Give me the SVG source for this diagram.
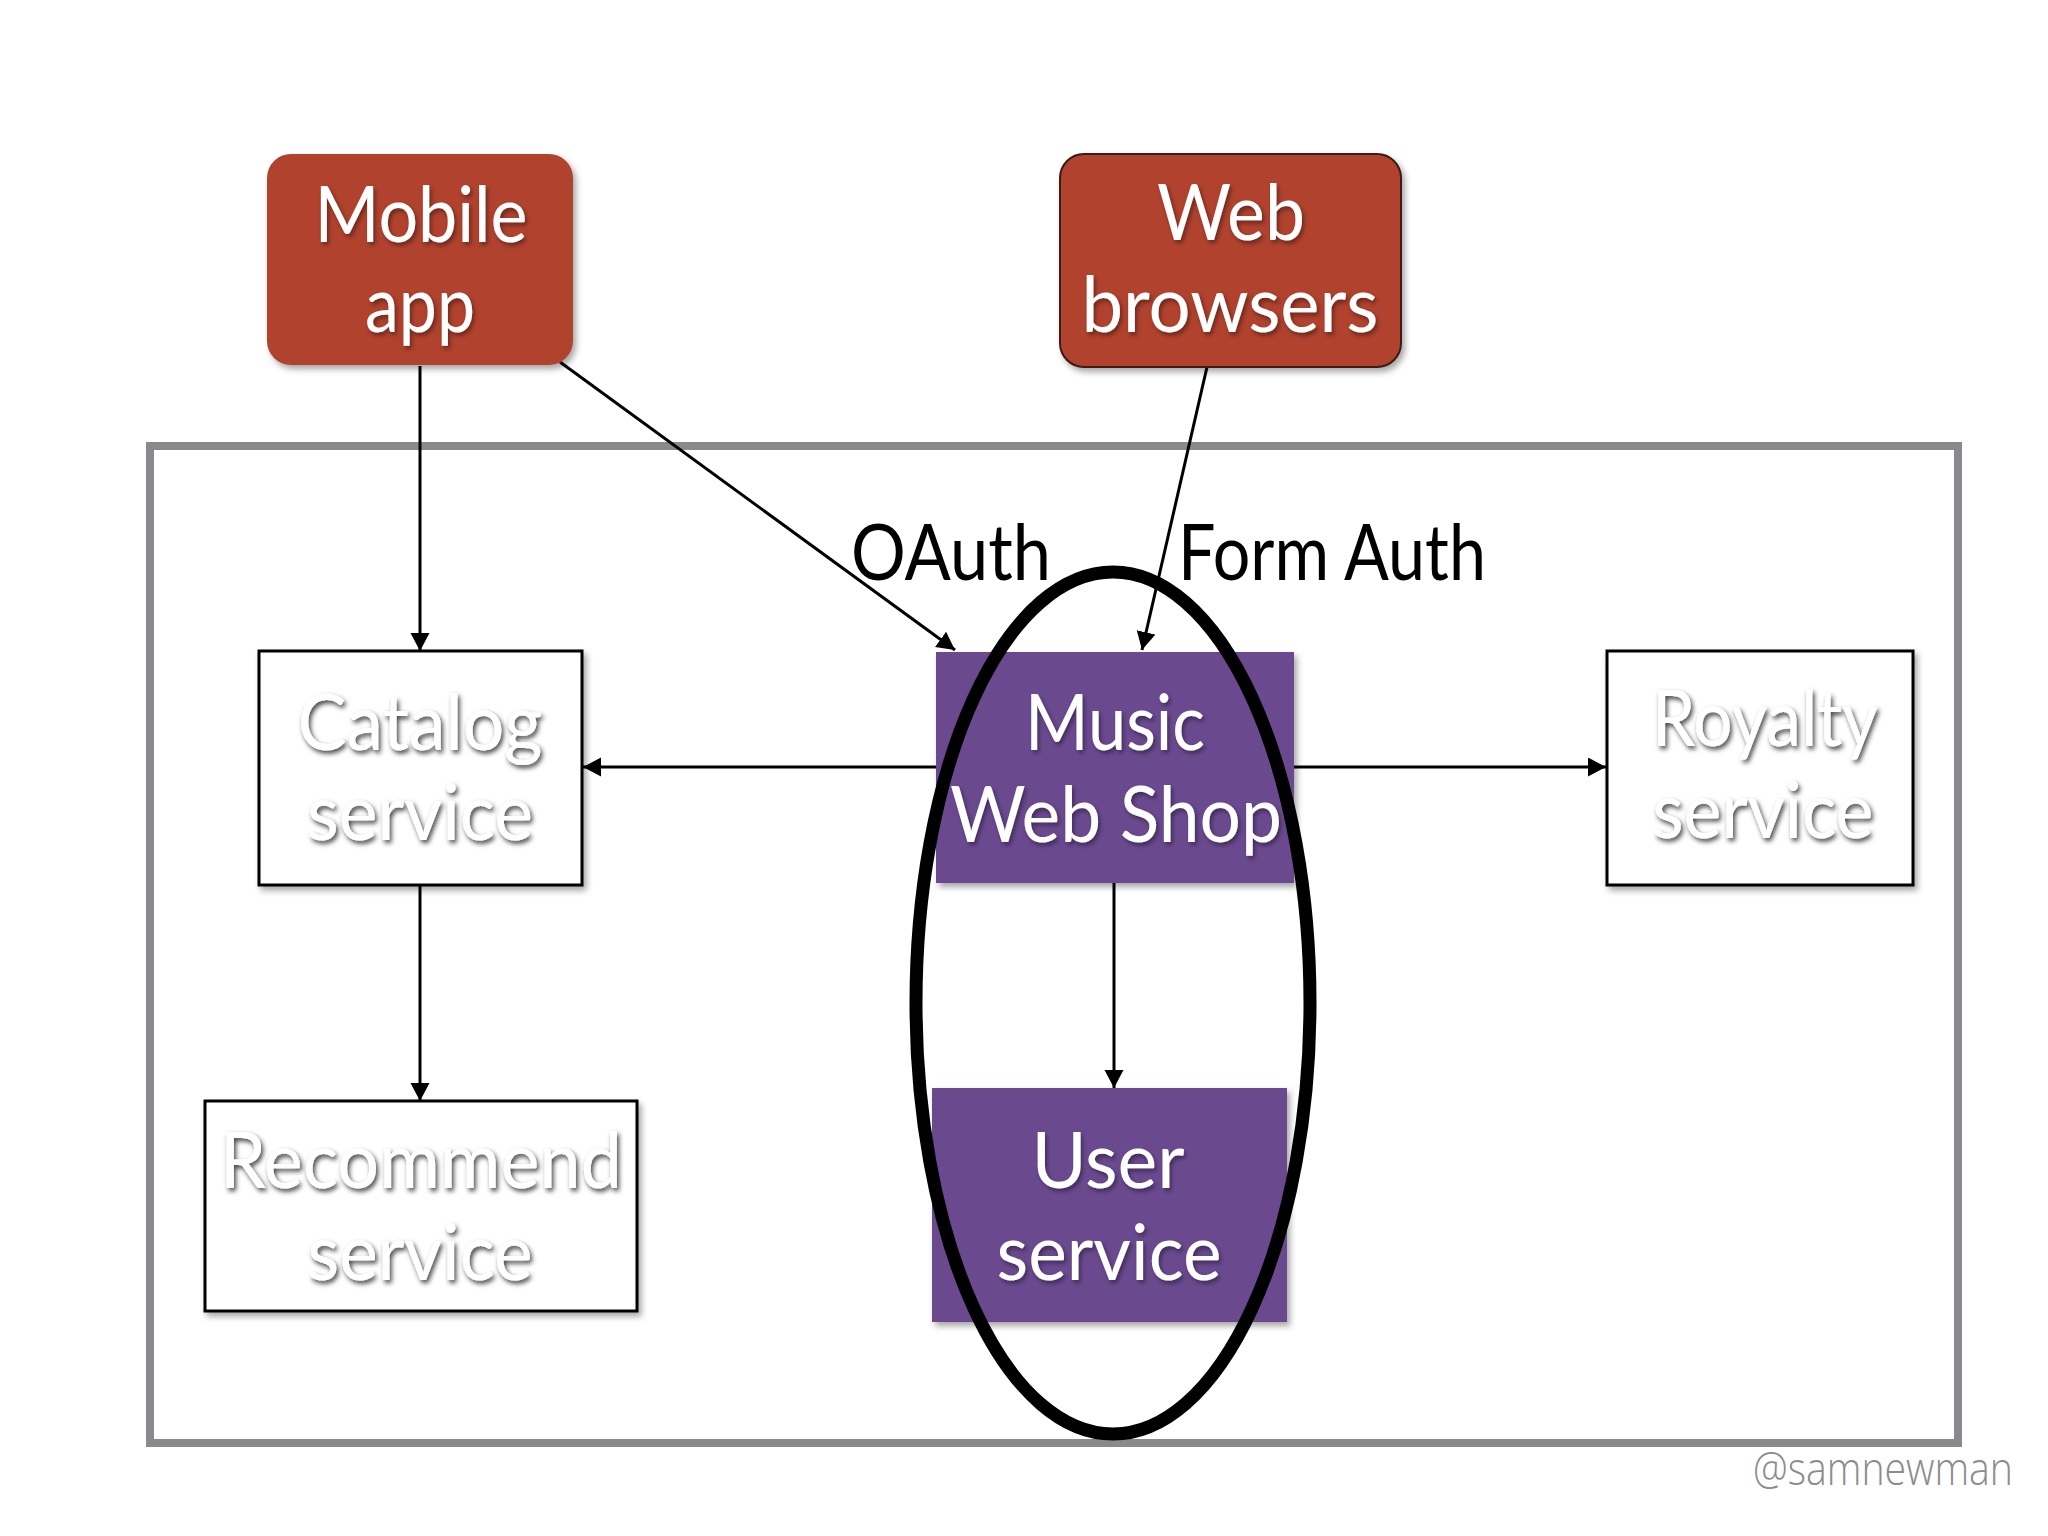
<svg xmlns="http://www.w3.org/2000/svg" width="2048" height="1536" viewBox="0 0 2048 1536">
<defs>
<style>
.lbl{font-family:Lato,"Open Sans","Liberation Sans",sans-serif;font-size:77px;fill:#ffffff;text-anchor:middle}
.emb{filter:url(#tshadow)}
.soft{filter:url(#tsoft)}
.edge{font-family:Lato,"Open Sans","Liberation Sans",sans-serif;font-size:77px;fill:#000000}
.conn{stroke:#000;stroke-width:3;fill:none;marker-end:url(#arr)}
.client{fill:#b0432f}
.svc{fill:#6b4a8f}
.plain{fill:#ffffff;stroke:#000;stroke-width:3}
</style>
<marker id="arr" markerUnits="userSpaceOnUse" markerWidth="20" markerHeight="20" refX="18" refY="9.5" orient="auto">
<path d="M0,0 L18,9.5 L0,19 z" fill="#000"/>
</marker>
<filter id="bshadow" x="-10%" y="-10%" width="125%" height="125%">
<feDropShadow dx="3" dy="4" stdDeviation="3" flood-color="#000" flood-opacity="0.35"/>
</filter>
<filter id="tshadow" x="-10%" y="-20%" width="125%" height="150%">
<feDropShadow dx="2" dy="3" stdDeviation="2.5" flood-color="#000" flood-opacity="0.75"/>
</filter>
<filter id="tsoft" x="-10%" y="-20%" width="125%" height="150%">
<feDropShadow dx="2" dy="3" stdDeviation="2" flood-color="#000" flood-opacity="0.4"/>
</filter>
</defs>
<rect x="0" y="0" width="2048" height="1536" fill="#ffffff"/>

<g id="boundary">
<rect x="150" y="446" width="1808" height="997" fill="none" stroke="#898a8e" stroke-width="8"/>
</g>

<g id="connectors">
<line class="conn" x1="420" y1="366" x2="420" y2="651"/>
<line class="conn" x1="560" y1="362" x2="955" y2="650"/>
<line class="conn" x1="1207" y1="367" x2="1142" y2="650"/>
<line class="conn" x1="936" y1="767" x2="583" y2="767"/>
<line class="conn" x1="1294" y1="767" x2="1606" y2="767"/>
<line class="conn" x1="420" y1="885" x2="420" y2="1101"/>
<line class="conn" x1="1114" y1="883" x2="1114" y2="1088"/>
</g>

<g id="mobile-app">
<rect class="client" x="267" y="154" width="306" height="211" rx="24" filter="url(#bshadow)"/>
<text class="lbl soft" x="421" y="242" textLength="213" lengthAdjust="spacingAndGlyphs">Mobile</text>
<text class="lbl soft" x="420" y="332" textLength="110" lengthAdjust="spacingAndGlyphs">app</text>
</g>

<g id="web-browsers">
<rect class="client" x="1060" y="154" width="341" height="213" rx="24" stroke="#3a1a12" stroke-width="2" filter="url(#bshadow)"/>
<text class="lbl soft" x="1231" y="240" textLength="148" lengthAdjust="spacingAndGlyphs">Web</text>
<text class="lbl soft" x="1230" y="332" textLength="297" lengthAdjust="spacingAndGlyphs">browsers</text>
</g>

<g id="catalog-service">
<rect class="plain" x="259" y="651" width="323" height="234" filter="url(#bshadow)"/>
<text class="lbl emb" x="420" y="750" textLength="245" lengthAdjust="spacingAndGlyphs">Catalog</text>
<text class="lbl emb" x="420" y="840" textLength="226" lengthAdjust="spacingAndGlyphs">service</text>
</g>

<g id="music-web-shop">
<rect class="svc" x="936" y="652" width="358" height="231" filter="url(#bshadow)"/>
<text class="lbl soft" x="1115" y="750" textLength="180" lengthAdjust="spacingAndGlyphs">Music</text>
<text class="lbl soft" x="1116" y="842" textLength="332" lengthAdjust="spacingAndGlyphs">Web Shop</text>
</g>

<g id="royalty-service">
<rect class="plain" x="1607" y="651" width="306" height="234" filter="url(#bshadow)"/>
<text class="lbl emb" x="1765" y="746" textLength="226" lengthAdjust="spacingAndGlyphs">Royalty</text>
<text class="lbl emb" x="1763" y="838" textLength="221" lengthAdjust="spacingAndGlyphs">service</text>
</g>

<g id="recommend-service">
<rect class="plain" x="205" y="1101" width="432" height="210" filter="url(#bshadow)"/>
<text class="lbl emb" x="421" y="1188" textLength="402" lengthAdjust="spacingAndGlyphs">Recommend</text>
<text class="lbl emb" x="420" y="1280" textLength="225" lengthAdjust="spacingAndGlyphs">service</text>
</g>

<g id="user-service">
<rect class="svc" x="932" y="1088" width="355" height="234" filter="url(#bshadow)"/>
<text class="lbl soft" x="1108" y="1188" textLength="153" lengthAdjust="spacingAndGlyphs">User</text>
<text class="lbl soft" x="1109" y="1280" textLength="225" lengthAdjust="spacingAndGlyphs">service</text>
</g>

<g id="edge-labels">
<text class="edge" x="851" y="580" textLength="200" lengthAdjust="spacingAndGlyphs">OAuth</text>
<text class="edge" x="1178" y="580" textLength="308" lengthAdjust="spacingAndGlyphs">Form Auth</text>
</g>

<g id="highlight">
<ellipse cx="1113" cy="1003" rx="197" ry="431" fill="none" stroke="#000" stroke-width="13"/>
</g>

<text x="1753" y="1485" font-family="'Open Sans','Liberation Sans',sans-serif" font-weight="300" font-size="46" fill="#8c8c8c" textLength="260" lengthAdjust="spacingAndGlyphs">@samnewman</text>
</svg>
